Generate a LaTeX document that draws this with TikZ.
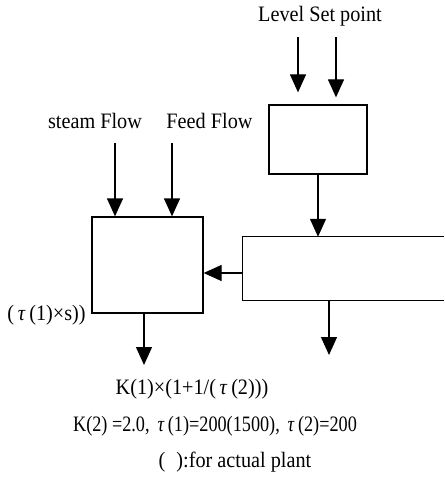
\documentclass[tikz,border=0pt]{standalone}
\usepackage{fontspec}
\setmainfont{Liberation Serif}[FakeStretch=0.92]
\usetikzlibrary{arrows.meta}
\begin{document}
\begin{tikzpicture}[x=1pt,y=-1pt,
  box/.style={draw,line width=1.3pt,inner sep=0pt,minimum width=#1},
  arr/.style={line width=1.3pt,-{Triangle[width=16pt,length=18pt]}},
  lbl/.style={inner sep=0pt,font=\fontsize{22}{26}\selectfont}]
\useasboundingbox (0,0) rectangle (444,478);
% boxes
\node[box=111pt,minimum height=96pt] (lb) at (147.5,265) {};
\node[box=98pt,minimum height=69pt] (tb) at (318,139.5) {};
\node[draw=none,inner sep=0pt,minimum width=201pt,minimum height=63pt] (rb) at (343.5,268.5) {};
\draw[line width=1.3pt] (rb.north east) -- (rb.north west) -- (rb.south west) -- (rb.south east);
% labels
\node[lbl] (lsp) at (320,16) {Level Set point};
\node[lbl] (sf) at (95,121) {steam Flow};
\node[lbl] (ff) at (209.5,121) {Feed Flow};
\node[lbl] (t1) at (46.5,315) {(\,\textit{τ}\,(1)×s))};
\node[lbl] (f1) at (192,389) {K(1)×(1+1/(\,\textit{τ}\,(2)))};
\node[lbl] (f2) at (215,426) {\scalebox{0.9}[1]{K(2) =2.0, \,\textit{τ}\,(1)=200(1500), \,\textit{τ}\,(2)=200}};
\node[lbl] (f3) at (235,462) {(\,\,\,):for actual plant};
% connector end points
\coordinate (s1) at (115,143);
\coordinate (s2) at (172,143);
\coordinate (l1) at (298,37);
\coordinate (l2) at (336,37);
\coordinate (m) at (243,273);
\coordinate (o1) at (144,365);
\coordinate (o2) at (329,355);
% connectors
\draw[arr] (s1) -- (s1 |- lb.north);
\draw[arr] (s2) -- (s2 |- lb.north);
\draw[arr,shorten >=12pt] (l1) -- (l1 |- tb.north);
\draw[arr,shorten >=7pt] (l2) -- (l2 |- tb.north);
\draw[arr] (tb.south) -- (tb.south |- rb.north);
\draw[arr] (m) -- (m -| lb.east);
\draw[arr] (o1 |- lb.south) -- (o1);
\draw[arr] (o2 |- rb.south) -- (o2);
\end{tikzpicture}
\end{document}
